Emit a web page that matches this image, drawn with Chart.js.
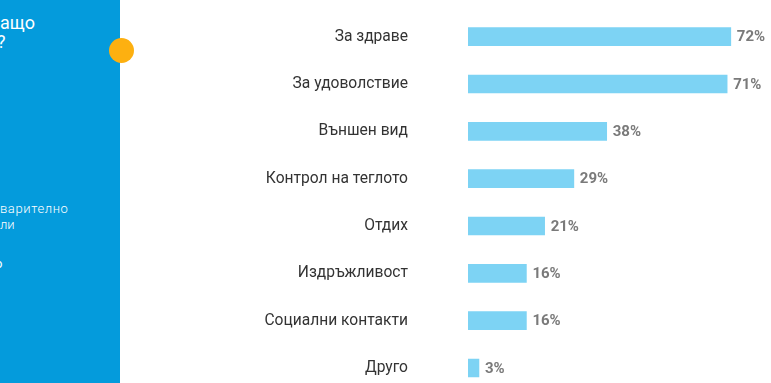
<!DOCTYPE html>
<html>
<head>
<meta charset="utf-8">
<script src="https://cdn.jsdelivr.net/npm/chart.js@4/dist/chart.umd.min.js"></script>
<style>
  html, body { margin: 0; padding: 0; width: 771px; height: 383px; overflow: hidden; background: #fff; }
  #wrap { position: absolute; left: 0; top: 0; width: 771px; height: 404px; }
  #panel { position: absolute; left: 0; top: 0; width: 120px; height: 383px; background: #049bdc; overflow: hidden; font-family: Roboto, sans-serif; color: #fff; }
  .t { position: absolute; white-space: nowrap; }
  #dot { position: absolute; left: 109px; top: 38px; width: 25px; height: 25px; border-radius: 50%; background: #fdb010; }
</style>
</head>
<body>
<div id="wrap"><canvas id="c" width="771" height="404"></canvas></div>
<div id="panel">
  <div class="t" style="left:0px; top:12px; font-size:18px;">ащо</div>
  <div class="t" style="left:-3px; top:31px; font-size:18px;">?</div>
  <div class="t" style="left:0px; top:201px; font-size:13px; font-weight:300; letter-spacing:0.6px;">варително</div>
  <div class="t" style="left:0px; top:217px; font-size:13px; font-weight:300;">ли</div>
  <div class="t" style="left:-5px; top:256px; font-size:13px;">о</div>
</div>
<div id="dot"></div>
<script>
const categories = ["За здраве", "За удоволствие", "Външен вид", "Контрол на теглото", "Отдих", "Издръжливост", "Социални контакти", "Друго"];
const values = [72, 71, 38, 29, 21, 16, 16, 3];
const valueLabels = ["72%", "71%", "38%", "29%", "21%", "16%", "16%", "3%"];

const valuePlugin = {
  id: 'valueLabels',
  afterDatasetsDraw(chart) {
    const ctx = chart.ctx;
    const meta = chart.getDatasetMeta(0);
    ctx.save();
    ctx.font = 'bold 15px Roboto, sans-serif';
    ctx.fillStyle = '#7a7a7a';
    ctx.textAlign = 'left';
    ctx.textBaseline = 'middle';
    meta.data.forEach((bar, i) => {
      ctx.fillText(valueLabels[i], bar.x + 6, bar.y + 1);
    });
    ctx.restore();
  }
};

new Chart(document.getElementById('c'), {
  type: 'bar',
  data: {
    labels: categories,
    datasets: [{
      data: values,
      backgroundColor: '#7dd3f4',
      borderWidth: 0,
      barThickness: 18
    }]
  },
  options: {
    indexAxis: 'y',
    responsive: false,
    animation: false,
    layout: { padding: { left: 0, right: 11, top: 13, bottom: 10 } },
    plugins: { legend: { display: false }, tooltip: { enabled: false } },
    scales: {
      x: {
        display: false,
        min: 0,
        max: 80
      },
      y: {
        grid: { display: true, drawOnChartArea: false, drawTicks: true, tickLength: 57, color: 'rgba(0,0,0,0)' },
        border: { display: false },
        ticks: {
          padding: 3,
          color: '#333',
          font: { family: 'Roboto, sans-serif', size: 15.6 }
        },
        afterFit(scale) { scale.width = 468; }
      }
    }
  },
  plugins: [valuePlugin]
});
</script>
</body>
</html>
